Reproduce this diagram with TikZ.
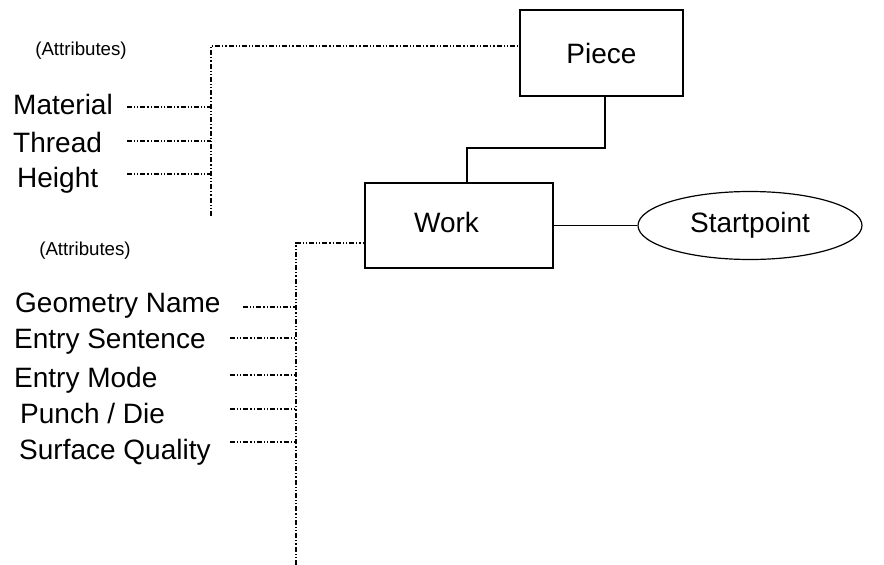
\documentclass[tikz,border=0pt]{standalone}
\usepackage{fontspec}
\setmainfont{Liberation Sans}
\usetikzlibrary{shapes.geometric}
\begin{document}
\begin{tikzpicture}[x=1pt,y=-1pt,
  entity/.style={draw,line width=1.4pt,rectangle,inner sep=0pt,
    font=\fontsize{28}{30}\selectfont},
  relation/.style={draw,line width=1.2pt,ellipse,inner sep=0pt,
    font=\fontsize{28}{30}\selectfont},
  attrlabel/.style={anchor=base west,inner sep=0pt,
    font=\fontsize{28}{30}\selectfont},
  grouplabel/.style={anchor=base,inner sep=0pt,
    font=\fontsize{18.7}{22}\selectfont},
  link/.style={line width=1.4pt},
  attrlink/.style={line width=1.3pt,
    dash pattern=on 5pt off 2pt on 1.2pt off 2pt on 1.2pt off 2pt}]
\useasboundingbox (0,0) rectangle (884,565);

% entities and the relation
\node[entity,minimum width=163pt,minimum height=86pt] (piece) at (601.5,53) {Piece};
\node[entity,minimum width=188pt,minimum height=85pt] (work) at (459,225.5) {};
\node[inner sep=0pt,anchor=base,font=\fontsize{28}{30}\selectfont] (worktext) at (446.5,232) {Work};
\node[relation,minimum width=224pt,minimum height=68pt] (start) at (750,225.5) {Startpoint};

% solid connectors
\coordinate (k1) at (605,148);
\coordinate (k2) at (467,148);
\draw[link] (piece.south -| k1) -- (k1) -- (k2) -- (work.north -| k2);
\draw[link] (work.east) -- (start.west);

% attributes of Piece
\node[grouplabel] (att1) at (81,55) {(Attributes)};
\node[attrlabel] (mat) at (13,114) {Material};
\node[attrlabel] (thr) at (13,152) {Thread};
\node[attrlabel] (hei) at (17,187) {Height};
\coordinate (b1top) at (211,46);
\coordinate (b1bot) at (211,216);
\coordinate (m1) at (127,107);
\coordinate (t1) at (127,141);
\coordinate (h1) at (127,174);
\draw[attrlink] (b1bot) -- (b1top) -- (b1top -| piece.west);
\draw[attrlink] (m1) -- (m1 -| b1top);
\draw[attrlink] (t1) -- (t1 -| b1top);
\draw[attrlink] (h1) -- (h1 -| b1top);

% attributes of Work
\node[grouplabel] (att2) at (85,255) {(Attributes)};
\node[attrlabel] (geo) at (15,312) {Geometry Name};
\node[attrlabel] (ens) at (14,348) {Entry Sentence};
\node[attrlabel] (enm) at (14,387) {Entry Mode};
\node[attrlabel] (pun) at (20,423) {Punch / Die};
\node[attrlabel] (sur) at (19,459) {Surface Quality};
\coordinate (b2top) at (296,243);
\coordinate (b2bot) at (296,565);
\coordinate (g1) at (243,307);
\coordinate (e1) at (230,338);
\coordinate (e2) at (230,375);
\coordinate (p1) at (230,409);
\coordinate (s1) at (230,442);
\draw[attrlink] (b2bot) -- (b2top) -- (b2top -| work.west);
\draw[attrlink] (g1) -- (g1 -| b2top);
\draw[attrlink] (e1) -- (e1 -| b2top);
\draw[attrlink] (e2) -- (e2 -| b2top);
\draw[attrlink] (p1) -- (p1 -| b2top);
\draw[attrlink] (s1) -- (s1 -| b2top);
\end{tikzpicture}
\end{document}
